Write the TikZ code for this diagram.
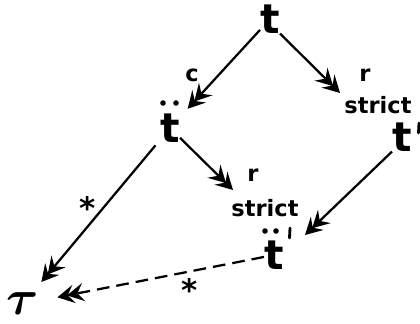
\documentclass[tikz,border=0pt]{standalone}
\usepackage{fontspec}
\usepackage{amsmath}
\usepackage{graphicx}
\usetikzlibrary{arrows.meta}
\newfontfamily\dvs{DejaVu Sans}
\newcommand{\bigtfont}{\dvs\bfseries\fontsize{29}{29}\selectfont}
\newcommand{\labfont}{\dvs\bfseries\fontsize{16}{16}\selectfont}
\newcommand{\starfont}{\dvs\bfseries\fontsize{22}{22}\selectfont}
\tikzset{
  bigt/.style={font=\bigtfont, inner sep=0pt},
  lab/.style={font=\labfont, inner sep=0pt},
  starlab/.style={font=\starfont, inner sep=0pt},
  twohead/.style={-{Stealth[length=12pt,width=13pt,inset=4.5pt,sep=-5pt]Stealth[length=12pt,width=13pt,inset=4.5pt]}},
  arr/.style={line width=1.6pt, twohead},
  darr/.style={arr, dash pattern=on 9pt off 5pt},
  dotm/.style={fill=black, draw=none},
  primemark/.style={line width=2pt, line cap=round},
}
\begin{document}
\begin{tikzpicture}[x=0.025cm, y=-0.025cm]
\useasboundingbox (0,0) rectangle (420,323);
% nodes
\node[bigt] (T) at (270,19) {t};
\node[bigt] (M) at (170,128) {t};
\node[bigt] (R) at (402,137) {t};
\node[bigt] (L) at (274,255) {t};
\node[inner sep=0pt] (tau) at (23,304) {\scalebox{3.5}{$\boldsymbol{\tau}$}};
% diaereses and primes
\fill[dotm] (163,103) circle (2.8);
\fill[dotm] (176,103) circle (2.8);
\fill[dotm] (265,231) circle (2.8);
\fill[dotm] (276,231) circle (2.8);
\draw[primemark] (419,123) -- (418.5,133);
\draw[primemark] (290,228) -- (289.5,238);
% labels
\node[lab] (lc) at (192,75) {c};
\node[lab] (lr1) at (365,75) {r};
\node[lab] (ls1) at (378,105) {strict};
\node[lab] (lr2) at (253,175) {r};
\node[lab] (ls2) at (265,208) {strict};
\node[starlab] (st1) at (88,208) {*};
\node[starlab] (st2) at (190,290) {*};
% tips
\coordinate (tipA) at (340,93);
\coordinate (tipB) at (233,190);
\coordinate (tipC) at (305,235);
% connectors
\draw[arr, shorten >=8pt] (T) -- (M);
\draw[arr] (T.south east) -- (tipA);
\draw[arr] (M) -- (tipB);
\draw[arr] (R.south west) -- (tipC);
\draw[arr, shorten <=5pt, shorten >=10pt] (M) -- (tau);
\draw[darr, shorten >=13pt] (L) -- (tau);
\end{tikzpicture}
\end{document}
